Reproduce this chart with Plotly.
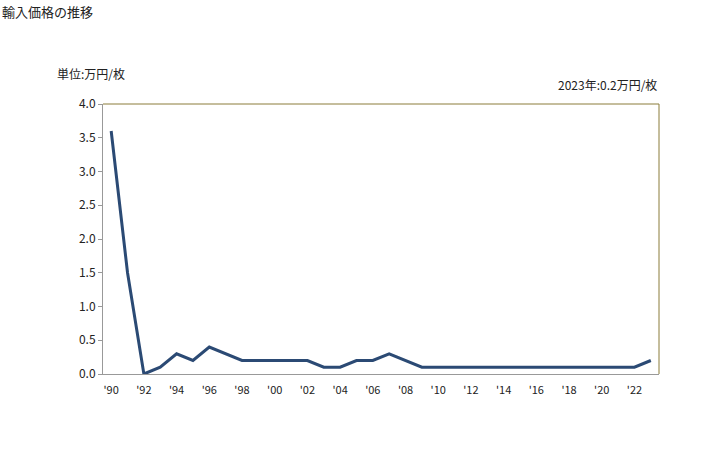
import plotly.graph_objects as go

years = list(range(1990, 2024))
values = [3.6, 1.5, 0.0, 0.1, 0.3, 0.2, 0.4, 0.3, 0.2, 0.2,
          0.2, 0.2, 0.2, 0.1, 0.1, 0.2, 0.2, 0.3, 0.2, 0.1,
          0.1, 0.1, 0.1, 0.1, 0.1, 0.1, 0.1, 0.1, 0.1, 0.1,
          0.1, 0.1, 0.1, 0.2]
tick_years = list(range(1990, 2023, 2))
tick_labels = ["'" + str(y)[2:] for y in tick_years]
y_ticks = [i * 0.5 for i in range(9)]
y_labels = [f"{v:.1f}" for v in y_ticks]

font = "Noto Sans CJK JP, sans-serif"
fig = go.Figure()
fig.add_trace(go.Scatter(x=years, y=values, mode="lines",
                         line=dict(color="#2B4A74", width=3)))

fig.update_layout(
    width=728, height=450,
    margin=dict(l=103, r=69, t=104, b=76),
    paper_bgcolor="white", plot_bgcolor="white",
    showlegend=False,
    font=dict(family=font, size=12, color="#222"),
    xaxis=dict(range=[1989.5, 2023.5], tickvals=tick_years, ticktext=tick_labels,
               showgrid=False, zeroline=False, showline=True, linecolor="#999",
               linewidth=1, mirror=False, ticks="outside", ticklen=6,
               tickcolor="rgba(0,0,0,0)", tickfont=dict(size=11)),
    yaxis=dict(range=[0, 4.0], tickvals=y_ticks, ticktext=y_labels,
               showgrid=False, zeroline=False, showline=True, linecolor="#999",
               linewidth=1, ticks="outside", ticklen=4, tickcolor="#999",
               tickfont=dict(size=12)),
    shapes=[
        dict(type="line", xref="paper", yref="paper", x0=0, x1=1, y0=1, y1=1,
             line=dict(color="#8B7D3A", width=1)),
        dict(type="line", xref="paper", yref="paper", x0=1, x1=1, y0=0, y1=1,
             line=dict(color="#8B7D3A", width=1)),
    ],
    annotations=[
        dict(text="輸入価格の推移", xref="paper", yref="paper", x=-103/556, y=1+(104-12)/270,
             xanchor="left", yanchor="middle", showarrow=False, font=dict(size=13)),
        dict(text="単位:万円/枚", xref="paper", yref="paper", x=-48/556, y=1+(104-73)/270,
             xanchor="left", yanchor="middle", showarrow=False, font=dict(size=12)),
        dict(text="2023年:0.2万円/枚", xref="paper", yref="paper", x=1, y=1+(104-85)/270,
             xanchor="right", yanchor="middle", showarrow=False, font=dict(size=12)),
    ],
)
fig.write_html("out.html")
